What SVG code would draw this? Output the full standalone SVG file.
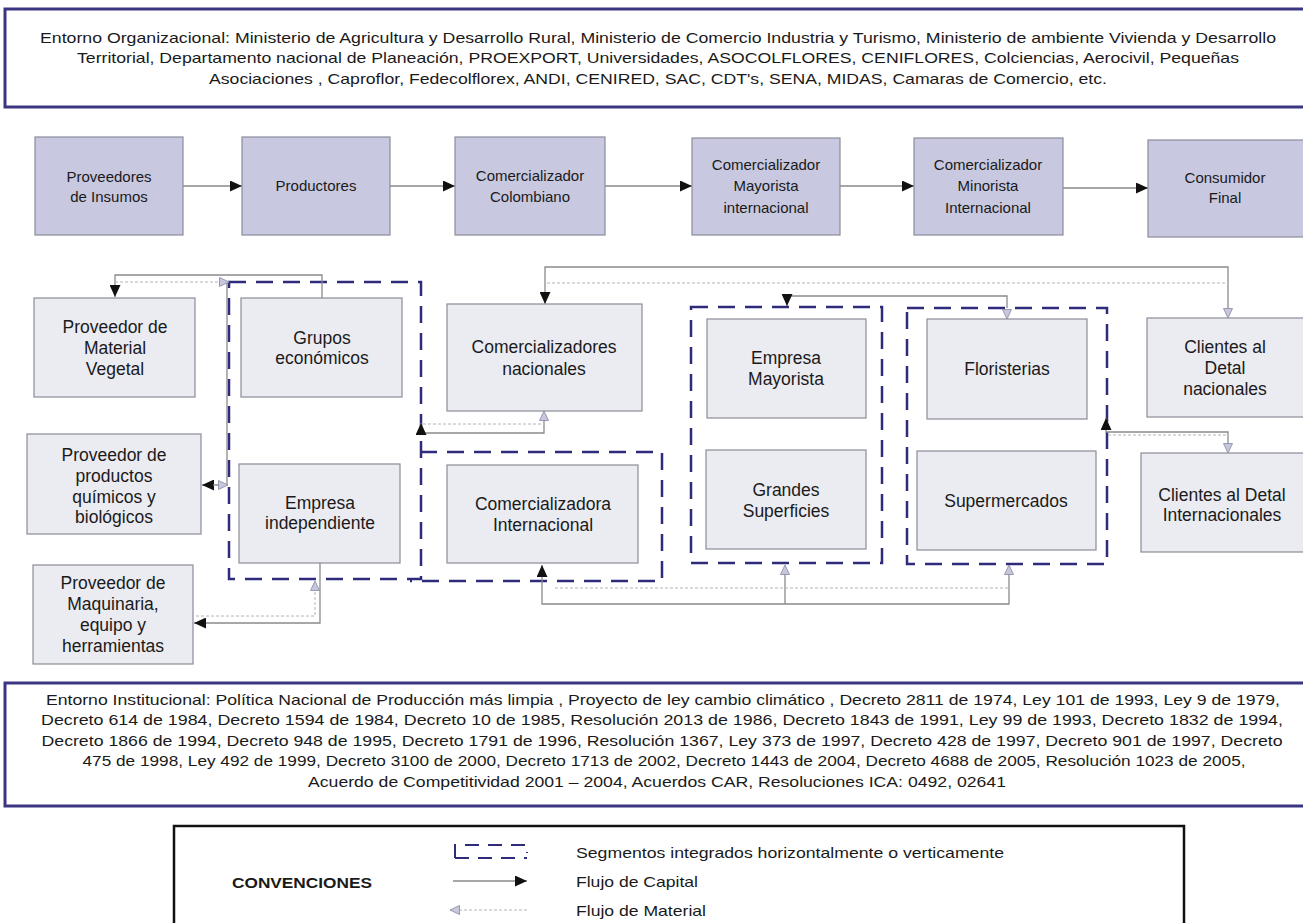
<svg xmlns="http://www.w3.org/2000/svg" width="1303" height="923" viewBox="0 0 1303 923">
<style>
text{font-family:"Liberation Sans",Arial,sans-serif;fill:#1a1a1a}
.env{font-size:15px}
.t1{font-size:15px;text-anchor:middle}
.t2{font-size:17.5px;text-anchor:middle}
.lg{font-size:15px}
.btop{fill:#c8c8e0;stroke:#8c8c9c;stroke-width:1.2}
.bmid{fill:#ebebf2;stroke:#8c8c98;stroke-width:1.2}
.grp{fill:none;stroke:#2e2b7a;stroke-width:2.5;stroke-dasharray:17 10}
.cap{fill:none;stroke:#8a8a8e;stroke-width:1.3}
.mat{fill:none;stroke:#b4b4bc;stroke-width:1;stroke-dasharray:3 2}
.envbox{fill:#fff;stroke:#3a3682;stroke-width:3}
</style>
<defs>
<marker id="capA" markerUnits="userSpaceOnUse" markerWidth="12" markerHeight="11" refX="12" refY="5.5" orient="auto">
<path d="M0,0 L12,5.5 L0,11 z" fill="#111"/>
</marker>
<marker id="matA" markerUnits="userSpaceOnUse" markerWidth="11" markerHeight="10" refX="10" refY="5" orient="auto">
<path d="M0.5,0.5 L10,5 L0.5,9.5 z" fill="#c6c6dc" stroke="#9898b0" stroke-width="1" stroke-dasharray="none"/>
</marker>
</defs>
<rect width="1303" height="923" fill="#fff"/>

<g id="entorno-organizacional">
<rect class="envbox" x="5" y="9" width="1305" height="98"/>
<text class="env" x="658" y="43" text-anchor="middle" textLength="1236" lengthAdjust="spacingAndGlyphs">Entorno Organizacional: Ministerio de Agricultura y Desarrollo Rural, Ministerio de Comercio Industria y Turismo, Ministerio de ambiente Vivienda y Desarrollo</text>
<text class="env" x="658" y="63" text-anchor="middle" textLength="1162" lengthAdjust="spacingAndGlyphs">Territorial, Departamento nacional de Planeación, PROEXPORT, Universidades, ASOCOLFLORES, CENIFLORES, Colciencias, Aerocivil, Pequeñas</text>
<text class="env" x="658" y="84" text-anchor="middle" textLength="898" lengthAdjust="spacingAndGlyphs">Asociaciones , Caproflor, Fedecolflorex, ANDI, CENIRED, SAC, CDT's, SENA, MIDAS, Camaras de Comercio, etc.</text>
</g>

<g id="groups">
<path class="grp" d="M229,282 H421 V579 H229 Z"/>
<path class="grp" d="M420,452 H662 V581 H410"/>
<path class="grp" d="M691,307 H882 V563 H691 Z"/>
<path class="grp" d="M907,308 H1107 V564 H907 Z"/>
</g>

<g id="connectors">
<path class="cap" d="M183,186 H242" marker-end="url(#capA)"/>
<path class="cap" d="M390,186 H455" marker-end="url(#capA)"/>
<path class="cap" d="M605,186 H692" marker-end="url(#capA)"/>
<path class="cap" d="M840,186 H914" marker-end="url(#capA)"/>
<path class="cap" d="M1063,188 H1148" marker-end="url(#capA)"/>

<path class="cap" d="M322,298 V275 H115 V297" marker-end="url(#capA)"/>
<path class="mat" d="M115,282 H229" marker-end="url(#matA)"/>

<path class="cap" d="M227,283 V485 H202" marker-end="url(#capA)"/>
<path class="mat" d="M213,485 H228" marker-end="url(#matA)"/>

<path class="cap" d="M320,563 V623 H194" marker-end="url(#capA)"/>
<path class="mat" d="M196,616 H315 V581" marker-end="url(#matA)"/>

<path class="cap" d="M1228,310 V267 H545 V304" marker-end="url(#capA)"/>
<path class="mat" d="M547,283 H1228 V318" marker-end="url(#matA)"/>

<path class="cap" d="M1007,308 V296 H787 V306" marker-end="url(#capA)"/>
<path class="mat" d="M1007,299 V319" marker-end="url(#matA)"/>

<path class="cap" d="M544,413 V433 H421 V423" marker-end="url(#capA)"/>
<path class="mat" d="M423,424 H544 V411" marker-end="url(#matA)"/>

<path class="cap" d="M1009,575 V604 H542 V565" marker-end="url(#capA)"/>
<path class="cap" d="M785,604 V575"/>
<path class="mat" d="M555,588 H1009 V565" marker-end="url(#matA)"/>
<path class="mat" d="M785,588 V565" marker-end="url(#matA)"/>

<path class="cap" d="M1228,445 V432 H1106 V418" marker-end="url(#capA)"/>
<path class="mat" d="M1108,435 H1228 V453" marker-end="url(#matA)"/>
</g>

<g id="n-proveedores-insumos"><rect class="btop" x="35" y="137" width="148" height="98"/><text class="t1" x="109" y="182">Proveedores</text><text class="t1" x="109" y="202">de Insumos</text></g>
<g id="n-productores"><rect class="btop" x="242" y="137" width="148" height="98"/><text class="t1" x="316" y="191">Productores</text></g>
<g id="n-comercializador-colombiano"><rect class="btop" x="455" y="137" width="150" height="98"/><text class="t1" x="530" y="181">Comercializador</text><text class="t1" x="530" y="202">Colombiano</text></g>
<g id="n-comercializador-mayorista"><rect class="btop" x="692" y="138" width="148" height="97"/><text class="t1" x="766" y="170">Comercializador</text><text class="t1" x="766" y="191">Mayorista</text><text class="t1" x="766" y="213">internacional</text></g>
<g id="n-comercializador-minorista"><rect class="btop" x="914" y="138" width="149" height="97"/><text class="t1" x="988" y="170">Comercializador</text><text class="t1" x="988" y="191">Minorista</text><text class="t1" x="988" y="213">Internacional</text></g>
<g id="n-consumidor-final"><rect class="btop" x="1148" y="140" width="160" height="97"/><text class="t1" x="1225" y="183">Consumidor</text><text class="t1" x="1225" y="203">Final</text></g>

<g id="n-material-vegetal"><rect class="bmid" x="34" y="298" width="161" height="99"/><text class="t2" x="115" y="333">Proveedor de</text><text class="t2" x="115" y="354">Material</text><text class="t2" x="115" y="375">Vegetal</text></g>
<g id="n-grupos-economicos"><rect class="bmid" x="241" y="298" width="161" height="99"/><text class="t2" x="322" y="344">Grupos</text><text class="t2" x="322" y="364">económicos</text></g>
<g id="n-quimicos"><rect class="bmid" x="27" y="434" width="174" height="100"/><text class="t2" x="114" y="461">Proveedor de</text><text class="t2" x="114" y="482">productos</text><text class="t2" x="114" y="503">químicos y</text><text class="t2" x="114" y="523">biológicos</text></g>
<g id="n-empresa-independiente"><rect class="bmid" x="239" y="464" width="161" height="99"/><text class="t2" x="320" y="509">Empresa</text><text class="t2" x="320" y="529">independiente</text></g>
<g id="n-maquinaria"><rect class="bmid" x="33" y="565" width="160" height="99"/><text class="t2" x="113" y="589">Proveedor de</text><text class="t2" x="113" y="610">Maquinaria,</text><text class="t2" x="113" y="631">equipo y</text><text class="t2" x="113" y="652">herramientas</text></g>
<g id="n-comercializadores-nacionales"><rect class="bmid" x="447" y="304" width="195" height="107"/><text class="t2" x="544" y="353">Comercializadores</text><text class="t2" x="544" y="375">nacionales</text></g>
<g id="n-comercializadora-internacional"><rect class="bmid" x="447" y="465" width="191" height="98"/><text class="t2" x="543" y="510">Comercializadora</text><text class="t2" x="543" y="531">Internacional</text></g>
<g id="n-empresa-mayorista"><rect class="bmid" x="707" y="319" width="159" height="99"/><text class="t2" x="786" y="364">Empresa</text><text class="t2" x="786" y="385">Mayorista</text></g>
<g id="n-grandes-superficies"><rect class="bmid" x="706" y="450" width="160" height="99"/><text class="t2" x="786" y="496">Grandes</text><text class="t2" x="786" y="517">Superficies</text></g>
<g id="n-floristerias"><rect class="bmid" x="927" y="319" width="160" height="100"/><text class="t2" x="1007" y="375">Floristerias</text></g>
<g id="n-supermercados"><rect class="bmid" x="917" y="451" width="179" height="99"/><text class="t2" x="1006" y="507">Supermercados</text></g>
<g id="n-clientes-nacionales"><rect class="bmid" x="1147" y="318" width="165" height="99"/><text class="t2" x="1225" y="353">Clientes al</text><text class="t2" x="1225" y="374">Detal</text><text class="t2" x="1225" y="395">nacionales</text></g>
<g id="n-clientes-internacionales"><rect class="bmid" x="1141" y="453" width="170" height="99"/><text class="t2" x="1222" y="501">Clientes al Detal</text><text class="t2" x="1222" y="521">Internacionales</text></g>

<g id="entorno-institucional">
<rect class="envbox" x="5" y="683" width="1305" height="123"/>
<text class="env" x="663" y="705" text-anchor="middle" textLength="1234" lengthAdjust="spacingAndGlyphs">Entorno Institucional: Política Nacional de Producción más limpia , Proyecto de ley cambio climático , Decreto 2811 de 1974, Ley 101 de 1993, Ley 9 de 1979,</text>
<text class="env" x="662" y="725" text-anchor="middle" textLength="1242" lengthAdjust="spacingAndGlyphs">Decreto 614 de 1984, Decreto 1594 de 1984, Decreto 10 de 1985, Resolución 2013 de 1986, Decreto 1843 de 1991, Ley 99 de 1993, Decreto 1832 de 1994,</text>
<text class="env" x="662" y="746" text-anchor="middle" textLength="1241" lengthAdjust="spacingAndGlyphs">Decreto 1866 de 1994, Decreto 948 de 1995, Decreto 1791 de 1996, Resolución 1367, Ley 373 de 1997, Decreto 428 de 1997, Decreto 901 de 1997, Decreto</text>
<text class="env" x="664" y="766" text-anchor="middle" textLength="1163" lengthAdjust="spacingAndGlyphs">475 de 1998, Ley 492 de 1999, Decreto 3100 de 2000, Decreto 1713 de 2002, Decreto 1443 de 2004, Decreto 4688 de 2005, Resolución 1023 de 2005,</text>
<text class="env" x="657" y="787" text-anchor="middle" textLength="698" lengthAdjust="spacingAndGlyphs">Acuerdo de Competitividad 2001 – 2004, Acuerdos CAR, Resoluciones ICA: 0492, 02641</text>
</g>

<g id="convenciones">
<rect x="174" y="826" width="1010" height="120" fill="#fff" stroke="#111" stroke-width="2.5"/>
<text x="232" y="888" font-size="15" font-weight="bold" textLength="140" lengthAdjust="spacingAndGlyphs">CONVENCIONES</text>
<path d="M455,858 V845 H527 V853 M455,858 H527" fill="none" stroke="#2e2b7a" stroke-width="2" stroke-dasharray="14 9"/>
<text class="lg" x="576" y="858" textLength="428" lengthAdjust="spacingAndGlyphs">Segmentos integrados horizontalmente o verticamente</text>
<path class="cap" d="M453,881 H527" marker-end="url(#capA)"/>
<text class="lg" x="576" y="887" textLength="122" lengthAdjust="spacingAndGlyphs">Flujo de Capital</text>
<path class="mat" d="M527,910 H450" marker-end="url(#matA)"/>
<text class="lg" x="576" y="916" textLength="130" lengthAdjust="spacingAndGlyphs">Flujo de Material</text>
</g>
</svg>
